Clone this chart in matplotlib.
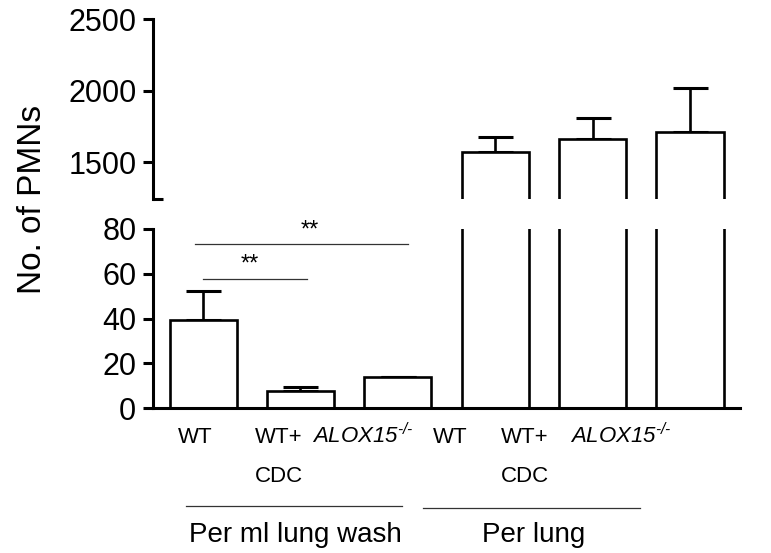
import numpy as np
import matplotlib
matplotlib.use("Agg")
import matplotlib.pyplot as plt
from matplotlib.transforms import blended_transform_factory

plt.rcParams['font.family'] = ['Liberation Sans', 'DejaVu Sans']
plt.rcParams['mathtext.fontset'] = 'custom'
plt.rcParams['mathtext.rm'] = 'Liberation Sans:italic'
plt.rcParams['mathtext.it'] = 'Liberation Sans:italic'

# data
means = [39.3, 7.4, 14.0, 1572, 1662, 1708]
errs = [13.0, 1.8, 0.0, 104, 150, 310]
xlabels = ["WT", "WT+\nCDC", r"$\mathrm{ALOX15}^{\text{-/-}}$",
           "WT", "WT+\nCDC", r"$\mathrm{ALOX15}^{\text{-/-}}$"]
groups = ["Per ml lung wash", "Per lung"]
x = np.arange(len(means))

fig = plt.figure(figsize=(7.71, 5.53), dpi=100)
ax_top = fig.add_axes([0.1984, 0.640, 0.7616, 0.3256])
ax_bot = fig.add_axes([0.1984, 0.2622, 0.7616, 0.3237])

lw = 2.2
for ax in (ax_top, ax_bot):
    ax.bar(x, means, width=0.69, color='white', edgecolor='black', linewidth=1.9, zorder=2)
    ax.errorbar(x, means, yerr=[np.zeros(len(errs)), errs], fmt='none', ecolor='black',
                elinewidth=1.9, capsize=12.6, capthick=2.2, zorder=1)
    ax.set_xlim(-0.515, 5.515)
    ax.spines['top'].set_visible(False)
    ax.spines['right'].set_visible(False)
    ax.spines['left'].set_linewidth(lw)
    ax.tick_params(axis='y', direction='out', length=7, width=lw, labelsize=22, pad=5)
    ax.set_xticks([])

ax_top.set_ylim(1243, 2500)
ax_top.set_yticks([1500, 2000, 2500])
ax_top.spines['bottom'].set_visible(False)
ax_top.set_yticks([1243], minor=True)
ax_top.tick_params(axis='y', which='minor', direction='in', length=7, width=lw)

ax_bot.set_ylim(0, 80)
ax_bot.set_yticks([0, 20, 40, 60, 80])
ax_bot.spines['bottom'].set_linewidth(lw)

# significance marks
ax_bot.plot([-0.08, 2.10], [73.3, 73.3], color='#333333', lw=0.9)
ax_bot.text(1.10, 74.6, "**", ha='center', va='bottom', fontsize=17)
ax_bot.plot([0.0, 1.07], [57.7, 57.7], color='#333333', lw=0.9)
ax_bot.text(0.48, 59.0, "**", ha='center', va='bottom', fontsize=17)

fig.text(0.042, 0.64, "No. of PMNs", rotation=90, ha='center', va='center', fontsize=24)

# category labels under the bars
tr = blended_transform_factory(ax_bot.transData, fig.transFigure)
label_x = [-0.08, 0.78, 1.64, 2.54, 3.30, 4.29]
for lx, lab in zip(label_x, xlabels):
    if "\n" in lab:
        first, second = lab.split("\n")
        ax_bot.text(lx, 0.199, first, transform=tr, ha='center', va='baseline', fontsize=16)
        ax_bot.text(lx, 0.128, second, transform=tr, ha='center', va='baseline', fontsize=16)
    else:
        ax_bot.text(lx, 0.199, lab, transform=tr, ha='center', va='baseline', fontsize=16)

# group brackets
for (x0, x1, yl), cx, g in zip([(-0.18, 2.04, 0.085), (2.26, 4.49, 0.081)], [0.95, 3.39], groups):
    ax_bot.plot([x0, x1], [yl, yl], transform=tr, color='#333333', lw=0.9, clip_on=False)
    ax_bot.text(cx, 0.020, g, transform=tr, ha='center', va='baseline', fontsize=20)

fig.savefig("out.png", dpi=100)
